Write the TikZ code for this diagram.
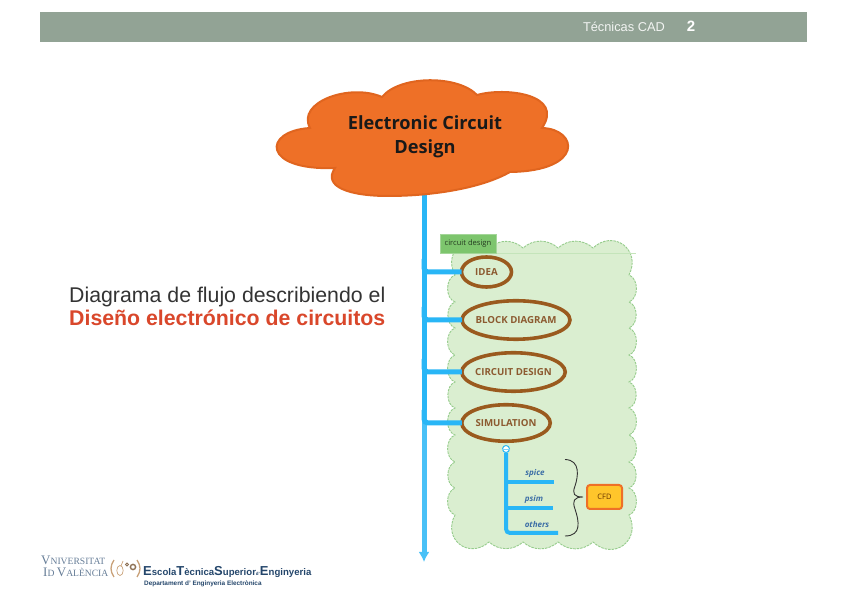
\documentclass[tikz,border=0pt]{standalone}
\usepackage{fontspec}
\usepackage{xcolor}
\usepackage{tikz}
\usetikzlibrary{shapes.geometric, arrows.meta}
\setmainfont{Liberation Sans}
\newfontfamily\opensans{Open Sans}
\newfontfamily\logoserif{Liberation Serif}
\newcommand{\bigletter}[1]{{\fontsize{13}{14}\selectfont #1}}

\definecolor{bandgray}{HTML}{92A395}
\definecolor{cloudorange}{HTML}{EE7027}
\definecolor{cloudedge}{HTML}{E0651F}
\definecolor{linkblue}{HTML}{29B6F6}
\definecolor{panelgreen}{HTML}{DAEED0}
\definecolor{paneledge}{HTML}{96CC8C}
\definecolor{panelline}{HTML}{C4E4BA}
\definecolor{tagreen}{HTML}{7DC56D}
\definecolor{topicbrown}{HTML}{9A5A1E}
\definecolor{topictext}{HTML}{8C5A30}
\definecolor{leafblue}{HTML}{3C6EA6}
\definecolor{boxyellow}{HTML}{FFC52B}
\definecolor{slidered}{HTML}{D9472B}
\definecolor{logonavy}{HTML}{24466B}
\definecolor{logotan}{HTML}{C9A27A}

\tikzset{
    topic/.style={ellipse, draw=topicbrown, line width=3.6pt, inner xsep=-8pt, inner ysep=0pt, outer sep=0pt,
        text=topictext, font=\opensans\bfseries\fontsize{9.7}{11}\selectfont},
    leaf/.style={text=leafblue, font=\opensans\bfseries\itshape\fontsize{8}{9}\selectfont},
    mainlink/.style={draw=linkblue, line width=5pt, rounded corners=4pt},
    sublink/.style={draw=linkblue, line width=4pt, rounded corners=4pt},
    slidetext/.style={anchor=base west, inner sep=0pt, font=\fontsize{21.3}{24}\selectfont}
}

\begin{document}
\begin{tikzpicture}[x=1pt, y=1pt]
    \useasboundingbox (0,0) rectangle (848,599);

    % 1. Header band
    \fill[bandgray] (40,557) rectangle (807,587);
    \node[anchor=base east, inner sep=0pt, text=white!88!bandgray, font=\fontsize{12.8}{14}\selectfont] (course) at (665,567) {Técnicas CAD};
    \node[anchor=base, inner sep=0pt, text=white, font=\bfseries\fontsize{15}{16}\selectfont] (pagenum) at (691,567) {2};

    % 2. Text on the left
    \node[slidetext, text=black!80] (intro) at (69,296.5) {Diagrama de flujo describiendo el};
    \node[slidetext, text=slidered, font=\bfseries\fontsize{21.3}{24}\selectfont] (introbold) at (69,273) {Diseño electrónico de circuitos};

    % 3. Scalloped green panel
    \path[fill=panelgreen, draw=paneledge, line width=0.9pt, dash pattern=on 2.5pt off 1pt]
        (489,351)
        \foreach \px/\py/\b/\l in {523/351/42/1, 558/351/42/1, 593/351/42/1, 629/324/80/1.6,
            629/297/70/1, 629/271/70/1, 629/244/70/1, 629/217/70/1, 629/191/70/1, 629/164/70/1, 629/137/70/1, 629/111/70/1, 629/84/70/1,
            593/57/80/1.6, 558/57/42/1, 523/57/42/1, 489/57/42/1, 455/84/80/1.6,
            455/111/70/1, 455/137/70/1, 455/164/70/1, 455/191/70/1, 455/217/70/1, 455/244/70/1, 455/271/70/1, 455/297/70/1, 455/324/70/1}
        { to[bend left=\b, looseness=\l] (\px,\py) }
        to[bend left=80, looseness=1.6] (489,351);
    \coordinate (panelend) at (636,346);
    \draw[panelline, line width=0.9pt] (496,346) -- (panelend);
    \node[draw=tagreen!70!white, fill=tagreen, minimum width=56pt, minimum height=19pt, inner sep=0pt,
        text=black!70!tagreen, font=\opensans\fontsize{7.6}{9}\selectfont] (tag) at (468,355.5) {circuit design};

    % 4. Main line going down from the cloud
    \coordinate (cloudfoot) at (424,415);
    \coordinate (joinidea) at (424,340);
    \coordinate (joinblock) at (424,292);
    \coordinate (joincircuit) at (424,240);
    \coordinate (joinsim) at (424,189);
    \coordinate (trunkend) at (424,37);
    \draw[draw=linkblue!85!white, line width=5pt, -{Latex[length=10pt,width=11pt]}] (joinsim) -- (trunkend);
    \draw[mainlink] (cloudfoot) -- (joinsim);

    % 5. Cloud with the title
    \draw[fill=cloudorange, draw=cloudedge, line width=2pt]
        (310,471) .. controls (296,497) and (350,516) .. (382,502)
        .. controls (400,524) and (458,524) .. (477,504)
        .. controls (505,512) and (565,505) .. (542,471)
        .. controls (578,470) and (585,428) .. (510,427)
        .. controls (480,410) and (430,403) .. (388,403)
        .. controls (350,403) and (322,412) .. (335,431)
        .. controls (262,428) and (262,468) .. (310,471) -- cycle;
    \node[align=center, text=black!90, font=\opensans\bfseries\fontsize{18.2}{24}\selectfont] (title) at (425,462) {Electronic Circuit\\Design};

    % 6. Branches and ellipses
    \node[topic, minimum width=50pt, minimum height=30pt] (idea) at (486.5,327) {IDEA};
    \node[topic, minimum width=108pt, minimum height=38.5pt] (block) at (516,279) {BLOCK DIAGRAM};
    \node[topic, minimum width=103.5pt, minimum height=38.5pt] (circuit) at (513.5,227) {CIRCUIT DESIGN};
    \node[topic, minimum width=88.5pt, minimum height=36.5pt] (simulation) at (506,176) {SIMULATION};
    \draw[mainlink] (joinidea) |- (idea.west);
    \draw[mainlink] (joinblock) |- (block.west);
    \draw[mainlink] (joincircuit) |- (circuit.west);
    \draw[mainlink] (joinsim) |- (simulation.west);

    % 7. Leaves under the simulation
    \coordinate (spiceend) at (554,117);
    \coordinate (psimend) at (552.5,91);
    \coordinate (othersend) at (558,66);
    \node[circle, draw=linkblue, fill=white, line width=1pt, minimum size=7pt, inner sep=0pt] (simdot) at (506,150) {};
    \draw[sublink] (simdot.south) |- (othersend);
    \draw[sublink] (simdot.south |- spiceend) -- (spiceend);
    \draw[sublink] (simdot.south |- psimend) -- (psimend);
    \draw[linkblue!60!white, line width=0.7pt] (simdot.west) -- (simdot.east);
    \node[leaf] (spice) at (535,126) {spice};
    \node[leaf] (psim) at (534,100) {psim};
    \node[leaf] (others) at (537,74) {others};

    % 8. Brace and the small box
    \node[draw=cloudorange, fill=boxyellow, line width=2pt, rounded corners=3pt,
        minimum width=35pt, minimum height=24pt, inner sep=0pt, text=black!60!orange,
        font=\opensans\fontsize{7.5}{9}\selectfont] (cfd) at (604.5,102) {CFD};
    \draw[black!80, line width=0.9pt] (565,139.5) .. controls (581,139) and (578,122) .. (575,113)
        .. controls (572,105) and (574,102) .. (583,102)
        .. controls (574,102) and (572,98) .. (575,90)
        .. controls (579,78) and (582,63) .. (565,63);

    % 9. Logos at the bottom
    \node[anchor=base west, inner sep=0pt, text=logonavy!70!white, font=\logoserif\fontsize{9.6}{10}\selectfont] (uni1) at (41,34) {\bigletter{V}NIVERSITAT};
    \node[anchor=base west, inner sep=0pt, text=logonavy!70!white, font=\logoserif\fontsize{9.6}{10}\selectfont] (uni2) at (43,22) {\bigletter{I}D \bigletter{V}ALÈNCIA};
    \draw[logotan, line width=1.3pt] (114,39) .. controls (110,33) and (110,28) .. (114,22);
    \draw[logotan, line width=1.3pt] (137,39) .. controls (141,33) and (141,28) .. (137,22);
    \draw[logotan, line width=0.7pt] (120,28.5) ellipse (3.2pt and 5pt);
    \draw[logotan, line width=0.7pt] (121,33) -- (123,38);
    \draw[logotan!70!black, line width=0.8pt] (127,34.5) circle (1.5pt);
    \draw[logotan!70!black, line width=1.4pt] (133,32) circle (2.6pt);
    \node[anchor=base west, inner sep=0pt, text=logonavy, font=\bfseries\fontsize{9.6}{10}\selectfont] (school) at (143,23)
        {\bigletter{E}scola\bigletter{T}ècnica\bigletter{S}uperior{\fontsize{4.5}{5}\selectfont d'}\bigletter{E}nginyeria};
    \node[anchor=base west, inner sep=0pt, text=logonavy, font=\bfseries\fontsize{6.4}{7}\selectfont] (dept) at (144,13) {Departament d' Enginyeria Electrònica};
\end{tikzpicture}
\end{document}
